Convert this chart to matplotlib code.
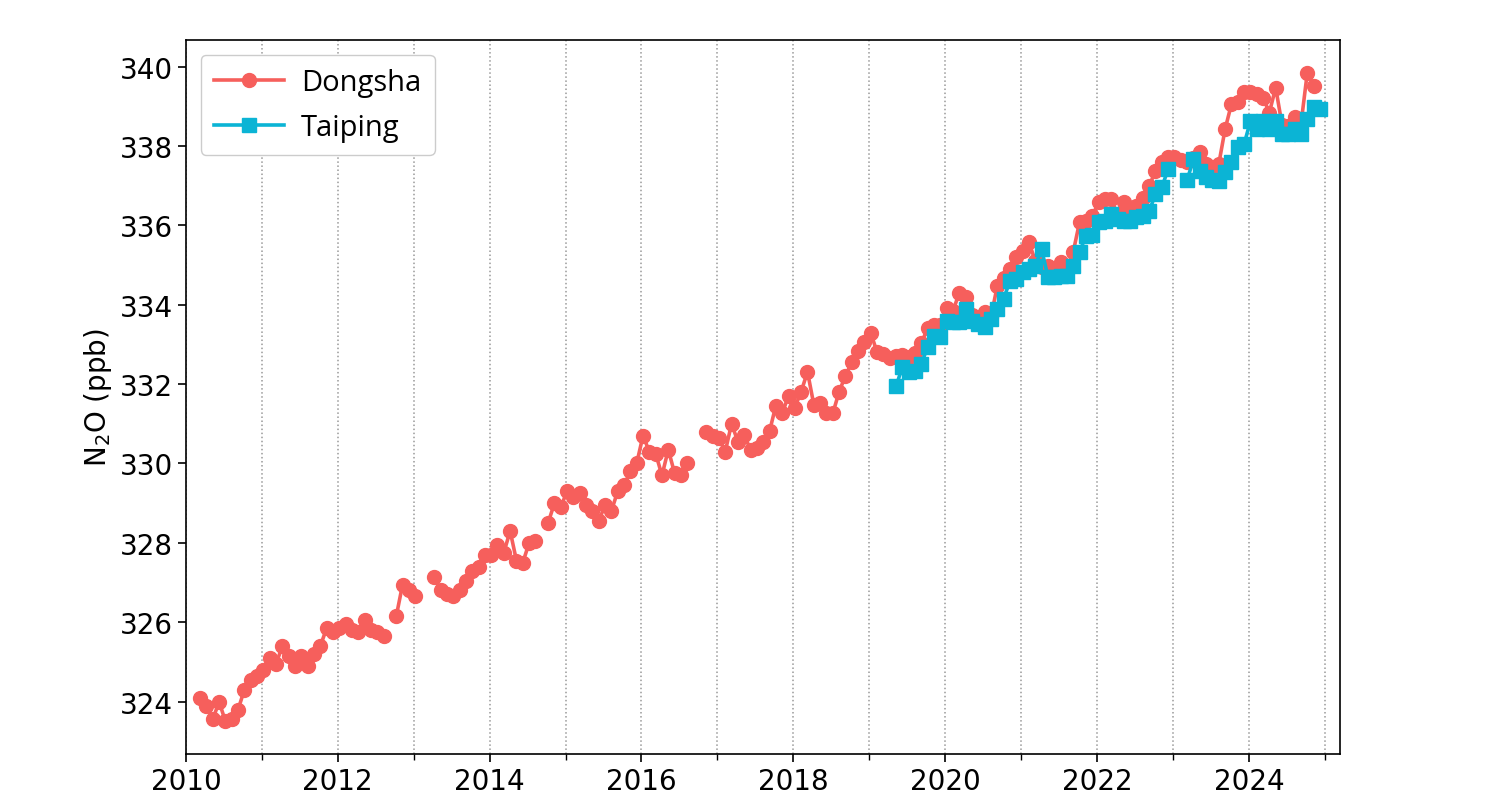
import numpy as np
import matplotlib.pyplot as plt
from matplotlib.ticker import MultipleLocator

nan = np.nan

# monthly N2O means (ppb), Jan..Dec for each year 2010-2024
years = list(range(2010, 2025))

dongsha = [
    [nan, nan, 324.1, 323.9, 323.55, 324.0, 323.5, 323.55, 323.8, 324.3, 324.55, 324.65],  # 2010
    [324.8, 325.1, 324.95, 325.4, 325.15, 324.9, 325.15, 324.9, 325.2, 325.4, 325.85, 325.75],  # 2011
    [325.85, 325.95, 325.8, 325.75, 326.05, 325.8, 325.75, 325.65, nan, 326.15, 326.95, 326.8],  # 2012
    [326.65, nan, nan, 327.15, 326.8, 326.7, 326.65, 326.8, 327.05, 327.3, 327.4, 327.7],  # 2013
    [327.7, 327.95, 327.75, 328.3, 327.55, 327.5, 328.0, 328.05, nan, 328.5, 329.0, 328.9],  # 2014
    [329.3, 329.15, 329.25, 328.95, 328.8, 328.55, 328.95, 328.8, 329.3, 329.45, 329.8, 330.0],  # 2015
    [330.7, 330.3, 330.25, 329.7, 330.35, 329.75, 329.7, 330.0, nan, nan, 330.8, 330.7],  # 2016
    [330.63, 330.3, 331.0, 330.55, 330.71, 330.35, 330.38, 330.55, 330.81, 331.46, 331.26, 331.71],  # 2017
    [331.41, 331.81, 332.31, 331.48, 331.53, 331.26, 331.26, 331.81, 332.21, 332.55, 332.84, 333.07],  # 2018
    [333.29, 332.8, 332.77, 332.67, 332.72, 332.74, 332.68, 332.78, 333.03, 333.42, 333.5, 333.5],  # 2019
    [333.92, 333.85, 334.3, 334.2, 333.75, 333.7, 333.82, 333.7, 334.47, 334.67, 334.9, 335.2],  # 2020
    [335.35, 335.58, 335.1, 334.95, 334.98, 334.9, 335.08, 334.9, 335.33, 336.08, 336.1, 336.23],  # 2021
    [336.58, 336.66, 336.66, 336.28, 336.6, 336.35, 336.48, 336.7, 337.0, 337.36, 337.6, 337.71],  # 2022
    [337.71, 337.64, 337.6, 337.7, 337.84, 337.54, 337.46, 337.54, 338.42, 339.05, 339.12, 339.35],  # 2023
    [339.37, 339.3, 339.22, 338.84, 339.47, 338.54, 338.5, 338.72, 338.55, 339.85, 339.52, nan],  # 2024
]

taiping = [[nan] * 12 for _ in range(9)] + [
    [nan, nan, nan, nan, 331.94, 332.44, 332.31, 332.34, 332.51, 332.94, 333.22, 333.19],  # 2019
    [333.6, 333.57, 333.57, 333.9, 333.6, 333.52, 333.44, 333.64, 333.9, 334.15, 334.6, 334.65],  # 2020
    [334.83, 334.9, 334.98, 335.4, 334.7, 334.7, 334.72, 334.73, 334.98, 335.33, 335.73, 335.75],  # 2021
    [336.08, 336.1, 336.28, 336.16, 336.1, 336.1, 336.2, 336.23, 336.36, 336.78, 336.96, 337.41],  # 2022
    [nan, nan, 337.14, 337.66, 337.36, 337.21, 337.14, 337.11, 337.34, 337.59, 337.97, 338.04],  # 2023
    [338.62, 338.42, 338.62, 338.42, 338.62, 338.29, 338.29, 338.42, 338.29, 338.67, 338.97, 338.92],  # 2024
]

# decimal-year position of each month
t = np.array([y + m / 12 + 0.02 for y in years for m in range(12)])
ds = np.array(dongsha).ravel()
tp = np.array(taiping).ravel()

red = '#F65F5C'
cyan = '#0BB4D5'

fig = plt.figure(figsize=(14.9, 8.12), dpi=100)
ax = fig.add_axes([0.1248, 0.0702, 0.7745, 0.8793])

ax.plot(t, ds, '-o', color=red, lw=2.6, ms=10, label='Dongsha')
ax.plot(t, tp, '-s', color=cyan, lw=2.6, ms=10, label='Taiping')

ax.set_xlim(2010, 2025.2)
ax.set_ylim(322.68, 340.67)
ax.xaxis.set_major_locator(MultipleLocator(2))
ax.xaxis.set_minor_locator(MultipleLocator(1))
ax.yaxis.set_major_locator(MultipleLocator(2))
ax.grid(True, which='both', axis='x', linestyle=':', color='#999999', lw=1.1)
ax.tick_params(axis='both', which='major', labelsize=20, length=6, width=1.2)
ax.tick_params(axis='x', which='minor', length=4, width=1)
for s in ax.spines.values():
    s.set_linewidth(1.2)

ax.set_ylabel('N$_2$O (ppb)', fontsize=20)

ax.legend(loc='upper left', prop={'family': 'Open Sans', 'size': 21},
          handlelength=2.4, borderpad=0.45, labelspacing=0.55,
          handletextpad=0.6, framealpha=1)

fig.savefig('out.png', dpi=100)
